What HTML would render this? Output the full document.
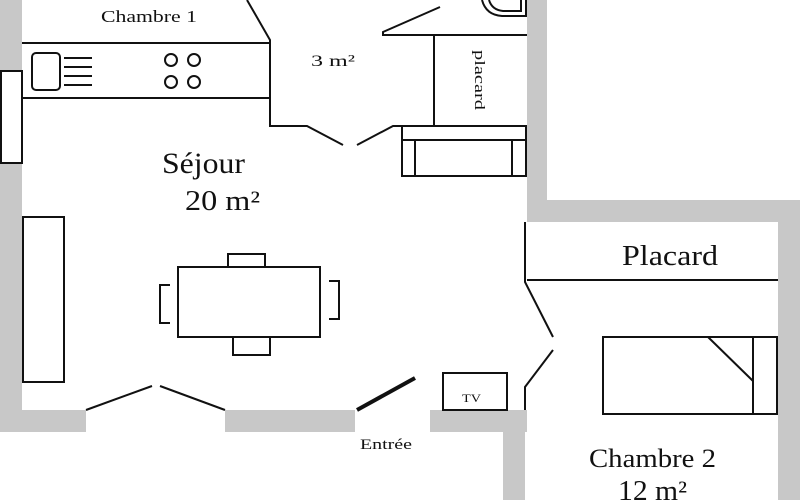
<!DOCTYPE html>
<html><head><meta charset="utf-8"><style>
html,body{margin:0;padding:0;background:#fff;}
svg{display:block;}
text{font-family:"Liberation Serif",serif;fill:#111;}
</style></head><body>
<svg width="800" height="500" viewBox="0 0 800 500" xmlns="http://www.w3.org/2000/svg">
<rect width="800" height="500" fill="#fff"/>
<g fill="#c8c8c8">
<rect x="0" y="0" width="22" height="432"/>
<rect x="0" y="410" width="86" height="22"/>
<rect x="225" y="410" width="130" height="22"/>
<rect x="430" y="410" width="97" height="22"/>
<rect x="503" y="410" width="22" height="90"/>
<rect x="527" y="0" width="20" height="222"/>
<rect x="527" y="200" width="273" height="22"/>
<rect x="778" y="200" width="22" height="300"/>
</g>
<g fill="none" stroke="#111" stroke-width="2">
<rect x="1" y="71" width="21" height="92" fill="#fff"/>
<line x1="22" y1="43" x2="270" y2="43"/>
<line x1="22" y1="98" x2="270" y2="98"/>
<polyline points="247,0 270,40 270,126 307,126 343,145"/>
<polyline points="357,145 393,126 402,126"/>
<rect x="32" y="53" width="28" height="37" rx="4"/>
<line x1="64" y1="58" x2="92" y2="58"/>
<line x1="64" y1="67" x2="92" y2="67"/>
<line x1="64" y1="76" x2="92" y2="76"/>
<line x1="64" y1="85" x2="92" y2="85"/>
<circle cx="171" cy="60" r="6"/>
<circle cx="194" cy="60" r="6"/>
<circle cx="171" cy="82" r="6"/>
<circle cx="194" cy="82" r="6"/>
<rect x="402" y="126" width="124" height="50"/>
<line x1="402" y1="140" x2="526" y2="140"/>
<line x1="415" y1="140" x2="415" y2="176"/>
<line x1="512" y1="140" x2="512" y2="176"/>
<line x1="434" y1="35" x2="434" y2="126"/>
<polyline points="440,7 383,32 383,35 527,35"/>
<path d="M482,0 Q486,15 502,16 L526,16 L526,0"/>
<path d="M489,0 Q492,10 503,11 L521,11 L521,0"/>
<rect x="23" y="217" width="41" height="165"/>
<rect x="178" y="267" width="142" height="70"/>
<polyline points="228,267 228,254 265,254 265,267"/>
<polyline points="233,337 233,355 270,355 270,337"/>
<polyline points="170,285 160,285 160,323 170,323"/>
<polyline points="329,281 339,281 339,319 329,319"/>
<line x1="86" y1="410" x2="152" y2="386"/>
<line x1="160" y1="386" x2="225" y2="410"/>
<line x1="357" y1="410" x2="415" y2="378" stroke-width="4"/>
<rect x="443" y="373" width="64" height="37"/>
<polyline points="525,222 525,282 553,337"/>
<polyline points="553,350 525,387 525,410"/>
<line x1="527" y1="280" x2="778" y2="280"/>
<rect x="603" y="337" width="174" height="77"/>
<line x1="753" y1="337" x2="753" y2="414"/>
<line x1="708" y1="337" x2="753" y2="381"/>
</g>
<text x="101" y="22" font-size="17" textLength="96" lengthAdjust="spacingAndGlyphs">Chambre 1</text>
<text x="311" y="66" font-size="16" textLength="44" lengthAdjust="spacingAndGlyphs">3 m²</text>
<text transform="translate(475,50) rotate(90)" font-size="15" textLength="60" lengthAdjust="spacingAndGlyphs">placard</text>
<text x="162" y="173" font-size="30" textLength="83" lengthAdjust="spacingAndGlyphs">Séjour</text>
<text x="185" y="210" font-size="28" textLength="75" lengthAdjust="spacingAndGlyphs">20 m²</text>
<text x="622" y="265" font-size="28" textLength="96" lengthAdjust="spacingAndGlyphs">Placard</text>
<text x="360" y="449" font-size="15" textLength="52" lengthAdjust="spacingAndGlyphs">Entrée</text>
<text x="462" y="402" font-size="12" textLength="19" lengthAdjust="spacingAndGlyphs">TV</text>
<text x="589" y="467" font-size="26" textLength="127" lengthAdjust="spacingAndGlyphs">Chambre 2</text>
<text x="618" y="500" font-size="28" textLength="69" lengthAdjust="spacingAndGlyphs">12 m²</text>
</svg>
</body></html>
